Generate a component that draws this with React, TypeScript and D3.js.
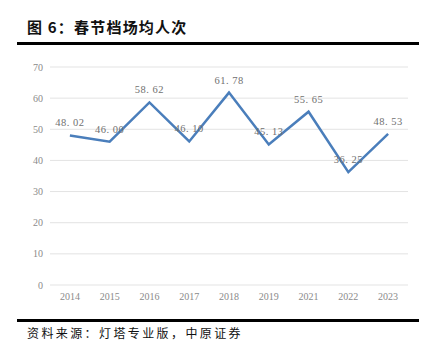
import React from "react";
import * as d3 from "d3";

const years = ["2014", "2015", "2016", "2017", "2018", "2019", "2021", "2022", "2023"];
const values = [48.02, 46.0, 58.62, 46.1, 61.78, 45.13, 55.65, 36.25, 48.53];
const yTicks = [0, 10, 20, 30, 40, 50, 60, 70];

export default function App() {
  const W = 432, H = 355;
  const x = d3.scaleBand().domain(years).range([50, 408]);
  const y = d3.scaleLinear().domain([0, 70]).range([285, 67]);
  const line = d3.line<number>()
    .x((_, i) => (x(years[i]) as number) + x.bandwidth() / 2)
    .y((d) => y(d));
  const serif = "'Liberation Serif', 'DejaVu Serif', serif";
  return (
    <svg width={W} height={H} style={{ position: "absolute", left: 0, top: 0, background: "#fff" }}>
      <text x={27} y={33} fontFamily="'Noto Sans CJK SC', sans-serif" fontWeight="bold" fontSize={15} fill="#111" letterSpacing={1.2}>图 6：春节档场均人次</text>
      <rect x={17} y={42} width={402} height={3} fill="#000" />
      {yTicks.map((t) => (
        <g key={t}>
          <line x1={50} x2={408} y1={y(t)} y2={y(t)} stroke="#e3e3e3" strokeWidth={1} />
          <text x={43} y={y(t) + 3.5} textAnchor="end" fontFamily={serif} fontSize={10} fill="#8a8a8a">{t}</text>
        </g>
      ))}
      {years.map((yr) => (
        <text key={yr} x={(x(yr) as number) + x.bandwidth() / 2} y={300} textAnchor="middle" fontFamily={serif} fontSize={10} fill="#8a8a8a">{yr}</text>
      ))}
      <path d={line(values) || ""} fill="none" stroke="#4a7ebb" strokeWidth={2.5} strokeLinejoin="miter" />
      {values.map((v, i) => (
        <text key={i} x={(x(years[i]) as number) + x.bandwidth() / 2} y={y(v) - 9} textAnchor="middle" fontFamily={serif} fontSize={10.5} fill="#707070" letterSpacing={0.5}>{v.toFixed(2).replace(".", ". ")}</text>
      ))}
      <rect x={17} y={319} width={402} height={3} fill="#000" />
      <text x={27} y={338} fontFamily="'Noto Sans CJK SC', sans-serif" fontSize={12} fill="#111" letterSpacing={2.4}>资料来源：灯塔专业版，中原证券</text>
    </svg>
  );
}
